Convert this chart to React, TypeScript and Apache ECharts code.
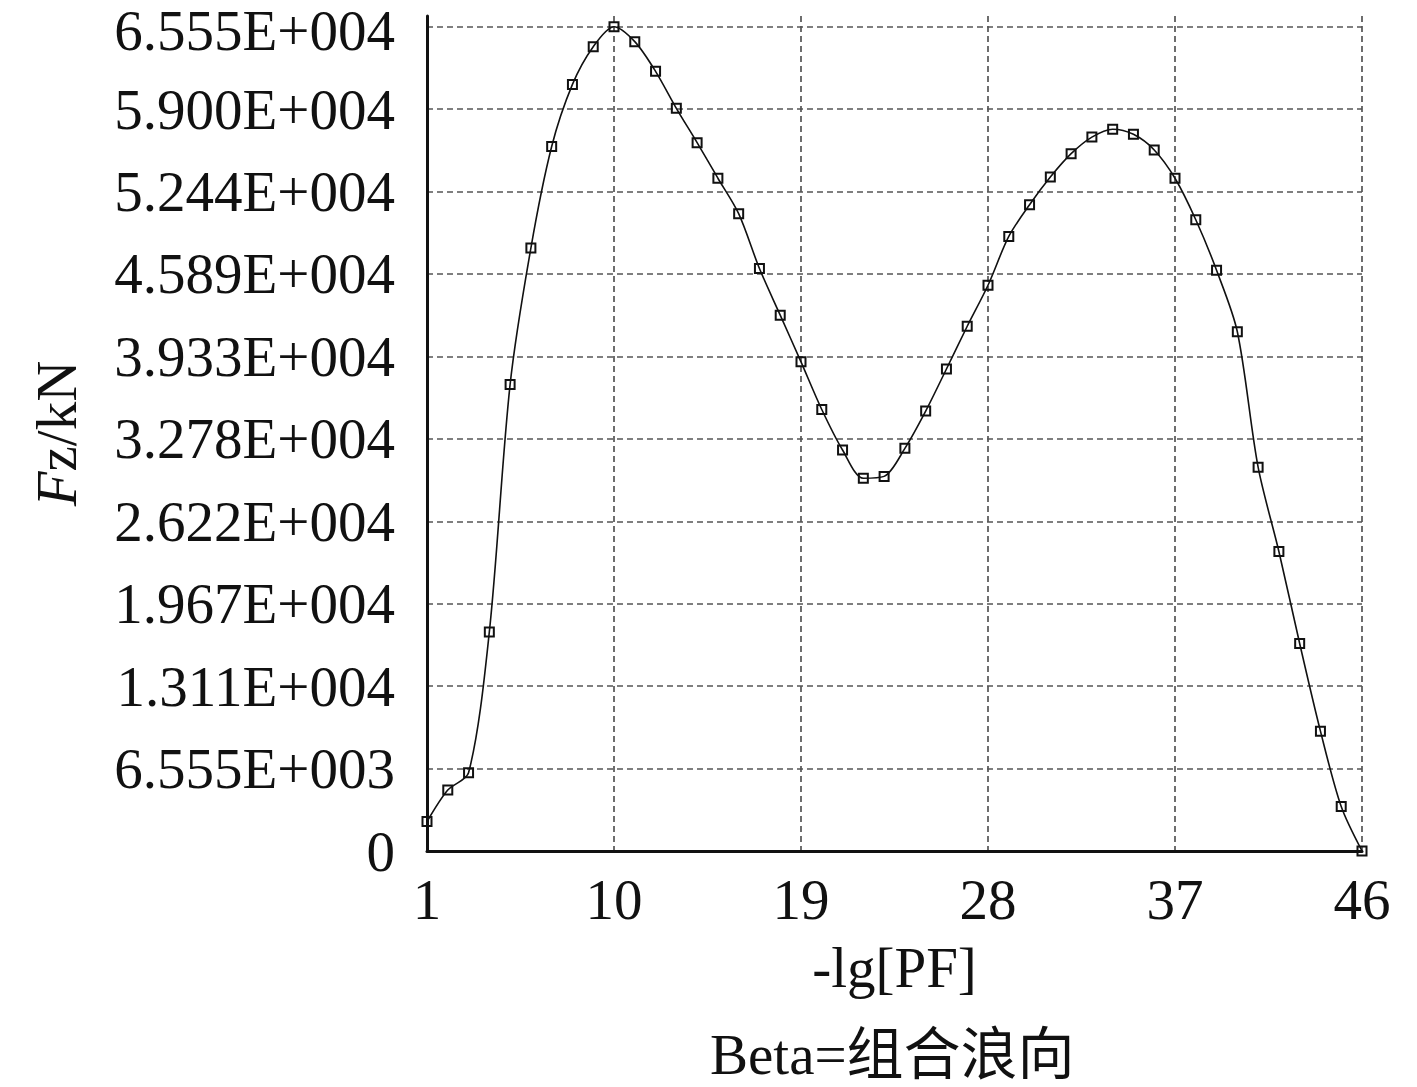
import React, { useEffect, useRef } from "react";
import * as echarts from "echarts";

// -lg[PF] categories
const xCategories = [
  "1", "2", "3", "4", "5", "6", "7", "8", "9", "10",
  "11", "12", "13", "14", "15", "16", "17", "18", "19", "20",
  "21", "22", "23", "24", "25", "26", "27", "28", "29", "30",
  "31", "32", "33", "34", "35", "36", "37", "38", "39", "40",
  "41", "42", "43", "44", "45", "46",
];

// Fz (kN) values
const fzValues = [
  2340, 4850, 6220, 17420, 37100, 47950, 56020, 60960, 63960, 65550,
  64360, 62000, 59060, 56330, 53500, 50680, 46320, 42610, 38900, 35110,
  31890, 29640, 29790, 32020, 34980, 38330, 41730, 44990, 48870, 51390,
  53590, 55450, 56770, 57400, 56990, 55750, 53500, 50200, 46180, 41290,
  30520, 23820, 16500, 9530, 3530, 0,
];

const yTickLabels = [
  "0", "6.555E+003", "1.311E+004", "1.967E+004", "2.622E+004", "3.278E+004",
  "3.933E+004", "4.589E+004", "5.244E+004", "5.900E+004", "6.555E+004",
];

const Y_STEP = 6555;
const Y_MAX = 66400;
const FONT = "'Liberation Serif', 'Times New Roman', 'Noto Sans CJK SC', serif";
const FS = 57;

export default function App() {
  const ref = useRef<HTMLDivElement>(null);

  useEffect(() => {
    if (!ref.current) return;
    const chart = echarts.init(ref.current, null, { renderer: "svg" });
    const dash = { color: "#555555", width: 1.7, type: [6, 4] as any };
    chart.setOption({
      animation: false,
      backgroundColor: "#ffffff",
      title: {
        text: "Beta=组合浪向",
        left: 710,
        top: 1026,
        padding: 0,
        textStyle: { fontFamily: FONT, fontSize: FS, lineHeight: 56, fontWeight: "normal", color: "#111" },
      },
      grid: {
        left: 427,
        right: 55,
        top: 16,
        bottom: 1087 - 851,
        containLabel: false,
        outerBoundsMode: "none",
      },
      xAxis: {
        type: "category",
        data: xCategories,
        boundaryGap: false,
        name: "-lg[PF]",
        nameLocation: "middle",
        nameGap: 88,
        nameTextStyle: { fontFamily: FONT, fontSize: FS, color: "#111" },
        axisLine: { show: true, lineStyle: { color: "#111", width: 3 } },
        axisTick: { show: false },
        axisLabel: {
          interval: 8,
          margin: 20,
          fontFamily: FONT,
          fontSize: FS,
          color: "#111",
        },
        splitLine: { show: true, interval: 8, lineStyle: dash },
      },
      yAxis: {
        type: "value",
        min: 0,
        max: Y_MAX,
        interval: Y_STEP,
        name: "{i|F}z/kN",
        nameLocation: "middle",
        nameGap: 342,
        nameRotate: 90,
        nameTextStyle: {
          fontFamily: FONT,
          fontSize: FS,
          color: "#111",
          rich: { i: { fontFamily: FONT, fontSize: FS, fontStyle: "italic", color: "#111" } },
        },
        axisLine: { show: true, lineStyle: { color: "#111", width: 3 } },
        axisTick: { show: false },
        axisLabel: {
          margin: 32,
          showMaxLabel: false,
          fontFamily: FONT,
          fontSize: FS,
          lineHeight: 48,
          color: "#111",
          formatter: (v: number) => {
            const idx = Math.round(v / Y_STEP);
            const s = yTickLabels[idx] ?? "";
            return idx === yTickLabels.length - 1 ? `{top|${s}}` : s;
          },
          rich: {
            top: { fontFamily: FONT, fontSize: FS, lineHeight: 40, color: "#111", padding: [8, 0, 0, 0] },
          },
        },
        splitLine: { show: true, showMaxLine: false, lineStyle: dash },
      },
      series: [
        {
          type: "line",
          data: fzValues,
          smooth: 0.3,
          symbol: "rect",
          symbolSize: 9,
          showAllSymbol: true,
          lineStyle: { color: "#111", width: 1.6 },
          itemStyle: { color: "transparent", borderColor: "#111", borderWidth: 2 },
          z: 5,
        },
      ],
    });
    return () => chart.dispose();
  }, []);

  return (
    <div
      ref={ref}
      style={{ position: "fixed", left: 0, top: 0, width: 1417, height: 1087, background: "#fff" }}
    />
  );
}
